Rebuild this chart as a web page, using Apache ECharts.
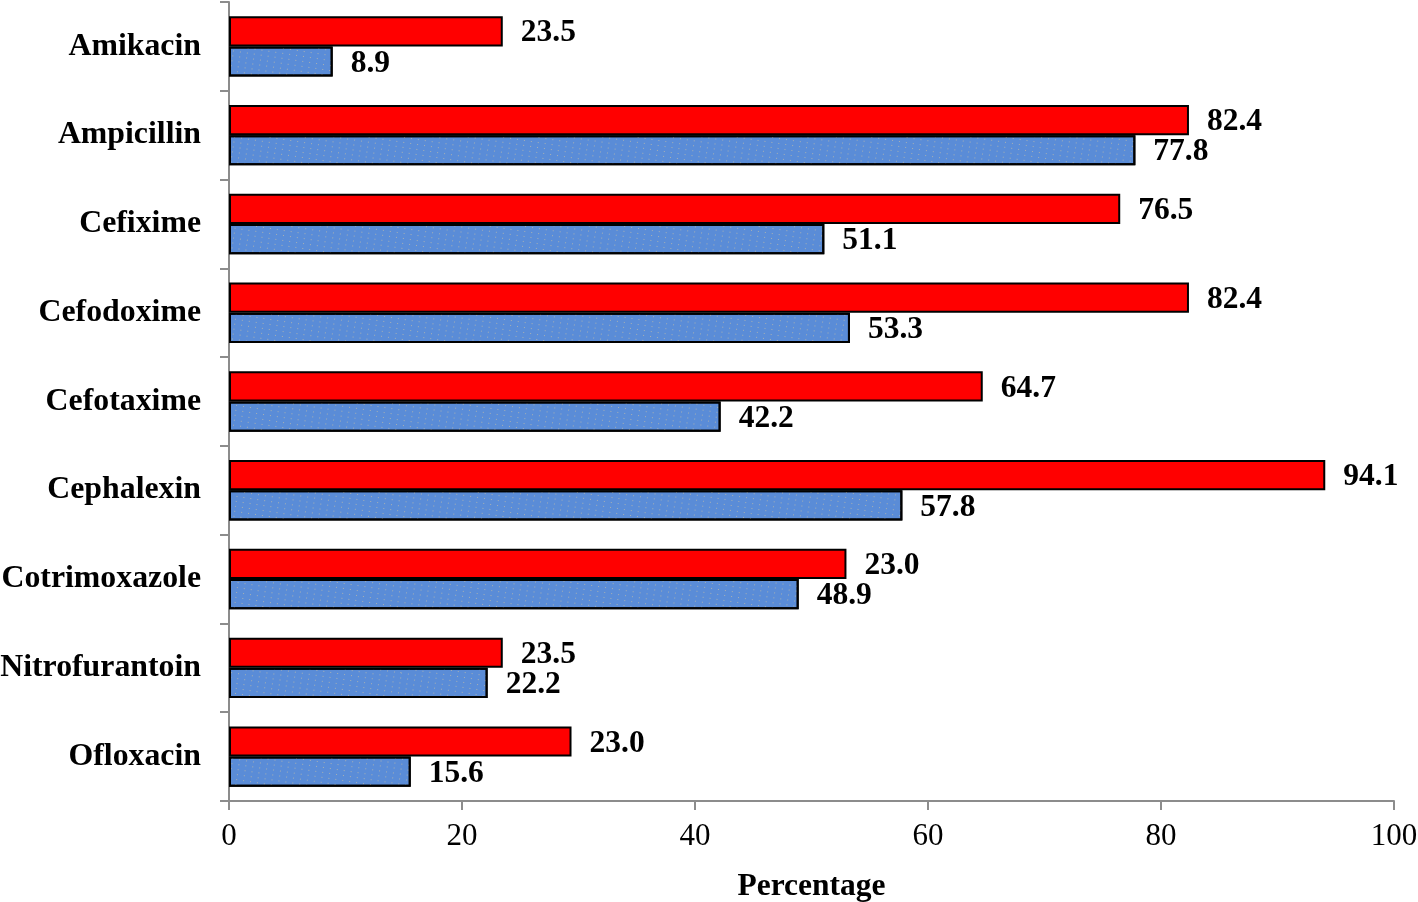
<!DOCTYPE html>
<html>
<head>
<meta charset="utf-8">
<script src="https://cdn.jsdelivr.net/npm/echarts@6/dist/echarts.min.js"></script>
<style>
html,body{margin:0;padding:0;background:#fff;}
#chart{width:1418px;height:902px;}
</style>
</head>
<body>
<div id="chart"></div>
<script>
const categories = ["Amikacin","Ampicillin","Cefixime","Cefodoxime","Cefotaxime","Cephalexin","Cotrimoxazole","Nitrofurantoin","Ofloxacin"];
const redValues = [23.5, 82.4, 76.5, 82.4, 64.7, 94.1, 53.0, 23.5, 29.4];
const redLabels = ["23.5","82.4","76.5","82.4","64.7","94.1","23.0","23.5","23.0"];
const blueValues = [8.9, 77.8, 51.1, 53.3, 42.2, 57.8, 48.9, 22.2, 15.6];
const blueLabels = ["8.9","77.8","51.1","53.3","42.2","57.8","48.9","22.2","15.6"];
const xTicks = [0, 20, 40, 60, 80, 100];

const font = "'Liberation Serif','Times New Roman',serif";
const chart = echarts.init(document.getElementById('chart'), null, {renderer:'canvas'});
const labelStyle = (labels) => ({
  show: true, position: 'right', distance: 18,
  fontFamily: font, fontWeight: 'bold', fontSize: 31.5, color: '#000',
  offset: [0, 2],
  formatter: p => labels[p.dataIndex]
});
chart.setOption({
  animation: false,
  grid: {left: 229, right: 24, top: 2, bottom: 101, containLabel: false, outerBoundsMode: 'none'},
  xAxis: {
    type: 'value', min: 0, max: 100, interval: 20,
    name: 'Percentage', nameLocation: 'middle', nameGap: 70,
    nameTextStyle: {fontFamily: font, fontWeight: 'bold', fontSize: 31.5, color: '#000'},
    axisLine: {show: true, lineStyle: {color: '#8c8c8c', width: 2}},
    axisTick: {show: true, length: 9, lineStyle: {color: '#8c8c8c', width: 2}},
    axisLabel: {fontFamily: font, fontSize: 31, color: '#000', margin: 20,
      formatter: v => xTicks.includes(v) ? String(v) : ''},
    splitLine: {show: false}
  },
  yAxis: {
    type: 'category', data: categories, inverse: true,
    axisLine: {show: true, lineStyle: {color: '#8c8c8c', width: 2}},
    axisTick: {show: true, length: 9, lineStyle: {color: '#8c8c8c', width: 2}},
    axisLabel: {fontFamily: font, fontWeight: 'bold', fontSize: 31.8, color: '#000', margin: 28},
    splitLine: {show: false}
  },
  series: [
    {
      type: 'bar', data: redValues, barGap: '0%', barCategoryGap: '32%',
      itemStyle: {color: '#ff0000', borderColor: '#000', borderWidth: 2},
      label: labelStyle(redLabels)
    },
    {
      type: 'bar', data: blueValues,
      itemStyle: {color: '#5a8cd7', borderColor: '#000', borderWidth: 2,
        decal: {symbol: 'rect', symbolSize: 1, color: 'rgba(230,205,150,0.55)',
          dashArrayX: [[1, 6]], dashArrayY: [1, 4], rotation: 0.15}},
      label: labelStyle(blueLabels)
    }
  ]
});
</script>
</body>
</html>
